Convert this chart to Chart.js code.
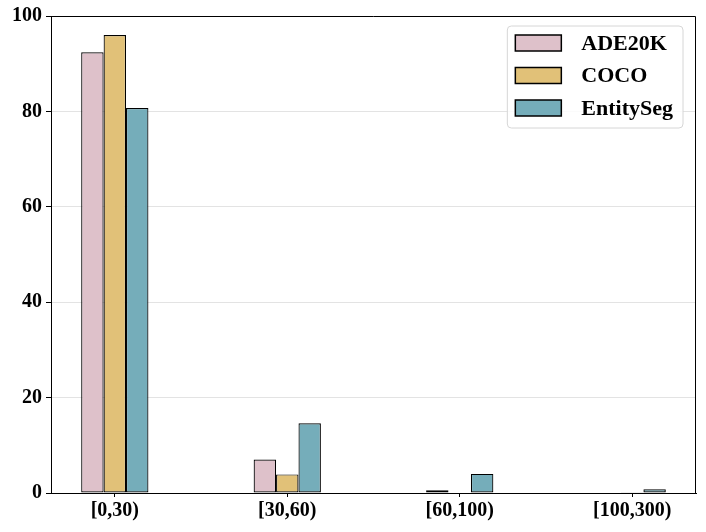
<!DOCTYPE html>
<html>
<head>
<meta charset="utf-8">
<script src="https://cdn.jsdelivr.net/npm/chart.js@4"></script>
<style>
  html, body { margin: 0; padding: 0; background: #fff; }
  #wrap { width: 706px; height: 532px; }
</style>
</head>
<body>
<div id="wrap"><canvas id="chart" width="706" height="532"></canvas></div>
<script>
const categories = ['[0,30)', '[30,60)', '[60,100)', '[100,300)'];
const ade20k = [92.4, 7.0, 0.6, 0.1];
const coco = [96.0, 3.9, 0.1, 0.05];
const entitySeg = [80.7, 14.6, 4.0, 0.8];
const yTicks = [0, 20, 40, 60, 80, 100];

const FONT = "'Liberation Serif', 'Times New Roman', serif";

const toPoints = (values) => values.map((v, i) => ({ x: i, y: v }));

// legend drawn inside the plot, top right, like matplotlib
const boxLegend = {
  id: 'boxLegend',
  afterDatasetsDraw(chart) {
    const { ctx, chartArea } = chart;
    const sets = chart.data.datasets;
    ctx.save();
    ctx.font = 'bold 22px ' + FONT;
    const textW = Math.max(...sets.map((d) => ctx.measureText(d.label).width));
    const w = 8 + 46 + 20 + textW + 10;
    const rowH = 32.5;
    const h = 17 + rowH * (sets.length - 1) + 20;
    const x = chartArea.right - 13 - w;
    const y = chartArea.top + 10;

    ctx.beginPath();
    ctx.roundRect(x, y, w, h, 4);
    ctx.fillStyle = 'rgba(255,255,255,0.85)';
    ctx.fill();
    ctx.strokeStyle = '#d6d6d6';
    ctx.lineWidth = 1;
    ctx.stroke();

    sets.forEach((d, i) => {
      const cy = y + 17 + i * rowH;
      ctx.fillStyle = d.backgroundColor;
      ctx.fillRect(x + 8, cy - 8, 46, 16);
      ctx.strokeStyle = '#000';
      ctx.lineWidth = 1.5;
      ctx.strokeRect(x + 8, cy - 8, 46, 16);
      ctx.fillStyle = '#000';
      ctx.textBaseline = 'middle';
      ctx.textAlign = 'left';
      ctx.fillText(d.label, x + 74, cy + 1);
    });
    ctx.restore();
  },
};

// top and right spines
const frame = {
  id: 'frame',
  afterDatasetsDraw(chart) {
    const { ctx, chartArea } = chart;
    ctx.save();
    ctx.strokeStyle = '#000';
    ctx.lineWidth = 1;
    ctx.beginPath();
    ctx.moveTo(chartArea.left, chartArea.top + 0.5);
    ctx.lineTo(chartArea.right - 0.5, chartArea.top + 0.5);
    ctx.lineTo(chartArea.right - 0.5, chartArea.bottom);
    ctx.stroke();
    ctx.restore();
  },
};

const barStyle = {
  borderColor: '#000',
  borderWidth: 1.2,
  borderSkipped: false,
  categoryPercentage: 0.39,
  barPercentage: 1,
};

new Chart(document.getElementById('chart'), {
  type: 'bar',
  data: {
    datasets: [
      { label: 'ADE20K', data: toPoints(ade20k), backgroundColor: '#dec1ca', ...barStyle },
      { label: 'COCO', data: toPoints(coco), backgroundColor: '#e1c178', ...barStyle },
      { label: 'EntitySeg', data: toPoints(entitySeg), backgroundColor: '#75adba', ...barStyle },
    ],
  },
  options: {
    responsive: false,
    devicePixelRatio: 1,
    animation: false,
    layout: { padding: { top: 15, right: 10, left: 0, bottom: 0 } },
    plugins: {
      legend: { display: false },
      tooltip: { enabled: false },
    },
    scales: {
      x: {
        type: 'linear',
        offset: false,
        min: -0.37,
        max: 3.37,
        afterBuildTicks: (scale) => {
          scale.ticks = categories.map((_, i) => ({ value: i }));
        },
        afterFit: (scale) => { scale.height = 39; },
        ticks: {
          callback: (v) => categories[v],
          color: '#000',
          font: { family: FONT, size: 20, weight: 'bold' },
          padding: 2,
          maxRotation: 0,
        },
        grid: {
          offset: false,
          drawOnChartArea: false,
          drawTicks: true,
          tickLength: 4,
          tickColor: '#000',
        },
        border: { display: true, color: '#000', width: 1 },
      },
      y: {
        min: 0,
        max: 100,
        afterBuildTicks: (scale) => {
          scale.ticks = yTicks.map((v) => ({ value: v }));
        },
        afterFit: (scale) => { scale.width = 51; },
        ticks: {
          color: '#000',
          font: { family: FONT, size: 20, weight: 'bold' },
          padding: 4,
        },
        grid: {
          color: (c) => (c.tick && (c.tick.value === 0 || c.tick.value === 100) ? 'rgba(0,0,0,0)' : '#e3e3e3'),
          lineWidth: 1,
          drawTicks: true,
          tickLength: 5,
          tickColor: '#000',
        },
        border: { display: true, color: '#000', width: 1 },
      },
    },
  },
  plugins: [frame, boxLegend],
});
</script>
</body>
</html>
